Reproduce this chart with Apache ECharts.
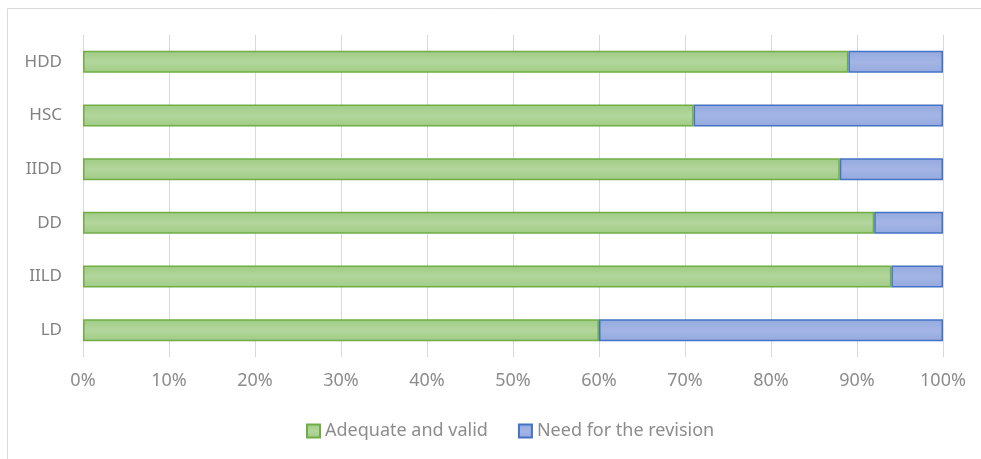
<!DOCTYPE html>
<html>
<head>
<meta charset="utf-8">
<script src="https://cdn.jsdelivr.net/npm/echarts@6/dist/echarts.min.js"></script>
<style>html,body{margin:0;padding:0;background:#fff}#c{width:981px;height:459px}</style>
</head>
<body>
<div id="c"></div>
<script>
const categories = ['LD', 'IILD', 'DD', 'IIDD', 'HSC', 'HDD'];
const adequate = [60, 94, 92, 88, 71, 89];
const revision = [40, 6, 8, 12, 29, 11];
const seriesNames = ['Adequate and valid', 'Need for the revision'];

const chart = echarts.init(document.getElementById('c'), null, {renderer: 'canvas'});
const FONT = 'Noto Sans';
function grad(c1, c2) {
  return new echarts.graphic.LinearGradient(0, 0, 0, 1, [
    {offset: 0, color: c1}, {offset: 0.5, color: c2}, {offset: 1, color: c1}
  ]);
}
chart.setOption({
  animation: false,
  backgroundColor: '#fff',
  graphic: [{
    type: 'rect', shape: {x: 7.5, y: 8.5, width: 1000, height: 500},
    style: {fill: 'none', stroke: '#d9d9d9', lineWidth: 1}, silent: true, z: -1
  }],
  grid: {left: 83, right: 38, top: 35, bottom: 102, containLabel: false},
  legend: {
    top: 417, left: 301, itemWidth: 13, itemHeight: 13, itemGap: 30,
    icon: 'rect',
    textStyle: {fontFamily: FONT, fontSize: 18, color: '#8c8c8c'},
    data: seriesNames
  },
  xAxis: {
    type: 'value', min: 0, max: 100, interval: 10,
    axisLabel: {formatter: '{value}%', fontFamily: FONT, fontSize: 18, color: '#8c8c8c', margin: 15},
    splitLine: {lineStyle: {color: '#d9d9d9', width: 1}},
    axisLine: {show: false}, axisTick: {show: false}
  },
  yAxis: {
    type: 'category', data: categories,
    axisLabel: {fontFamily: FONT, fontSize: 17, color: '#828282', margin: 21},
    axisLine: {show: false}, axisTick: {show: false}, splitLine: {show: false}
  },
  series: [
    {
      name: seriesNames[0], type: 'bar', stack: 'a', data: adequate, barWidth: 22,
      itemStyle: {color: grad('#9fcb84', '#b2d69c'), borderColor: '#70ad47', borderWidth: 1.5}
    },
    {
      name: seriesNames[1], type: 'bar', stack: 'a', data: revision, barWidth: 22,
      itemStyle: {color: grad('#94a9df', '#a3b5e4'), borderColor: '#4472c4', borderWidth: 1.5}
    }
  ]
});
</script>
</body>
</html>
